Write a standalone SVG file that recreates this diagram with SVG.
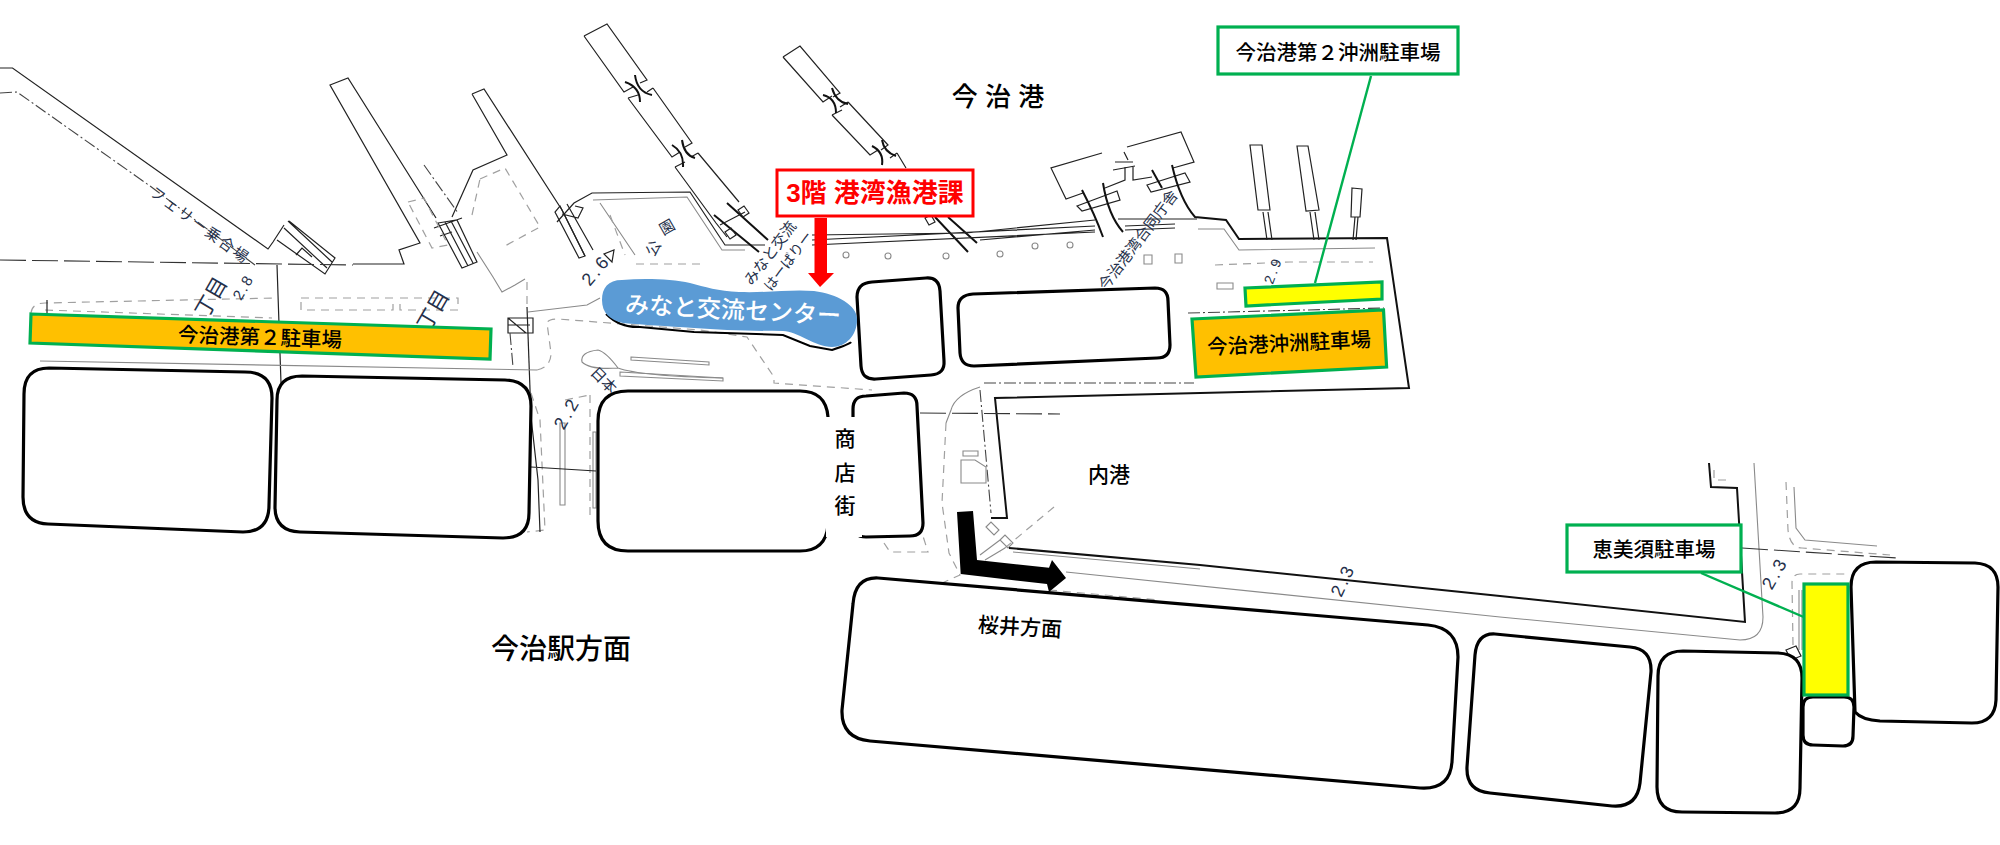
<svg xmlns="http://www.w3.org/2000/svg" width="2000" height="845" viewBox="0 0 2000 845">
<style>
text{font-family:"Liberation Sans","Noto Sans CJK JP",sans-serif;text-anchor:middle;dominant-baseline:central}
.m{fill:none;stroke:#222;stroke-width:1.2}
.k{fill:none;stroke:#111;stroke-width:2}
.g{fill:none;stroke:#8a8a8a;stroke-width:1.1}
.d{fill:none;stroke:#a0a0a0;stroke-width:1.2;stroke-dasharray:8 6}
.dd{fill:none;stroke:#444;stroke-width:1.1;stroke-dasharray:12 3 2 3}
.ld{fill:none;stroke:#333;stroke-width:1.1;stroke-dasharray:26 6}
.b{fill:#fff;stroke:#000;stroke-width:3.2}
.p{stroke:#00B050;stroke-width:3.2}
.lead{fill:none;stroke:#00B050;stroke-width:2.4}
.t{font-size:21px;fill:#000;font-weight:500}
.s{font-size:18px;fill:#25304a}
</style>
<g id="base-map">
<!-- ferry quay, west -->
<path class="m" d="M0,68H12.5L268,249L273,242L284,225M289,221L335,258L325,274L277,240M288,221L332,262M284,228L327,268"/>
<path class="dd" d="M0,93L17,92L150,186L255,265"/>
<path class="ld" d="M0,260L353,265"/>
<path class="m" d="M296,255L302,248L312,257M353,264H404L399,250L420,243L330,85L348,78L436,218"/>
<path class="m" d="M438,223L457,220L477,262L462,268ZM445,222L468,266M451,221L473,263M434,228L462,218M440,236L452,232"/>
<path class="d" d="M408,202L424,198L448,245L432,248Z"/>
<path class="m" d="M472,94L484,89L562,210L585,256M472,94L507,155L473,170L452,217"/>
<path class="dd" d="M424,165L458,213"/>
<path class="g" d="M477,252L493,277L502,292L515,285L525,279"/>
<path class="d" d="M480,179L505,168L540,227L503,247M527,282V306M472,215L480,179"/>
<path class="m" d="M527,307L531,417"/>
<path class="m" d="M557,222L574,203L592,193L690,192L725,245L765,245"/>
<path class="m" d="M560,206L585,256L579,258L555,212ZM567,204L593,250M575,206L583,208L578,218L562,214"/>
<path class="g" d="M593,200L687,197L722,250H745M600,203L635,255"/>
<path class="d" d="M636,264H700M610,215L625,255"/>
<path class="m" d="M612,262l-8,-8l10,-4z"/>
<!-- jetties -->
<path class="m" d="M584,36L607,24L647,80L640,83M653,88L647,92M653,88L692,143L685,147M698,153L691,157M698,153L739,202M584,36L624,92L633,87M628,98L638,95M628,98L672,157L680,152M675,167L685,162M675,167L716,223L727,237"/>
<path class="k" d="M625,82Q640,87 640,102M635,75Q637,92 652,95M672,145Q684,152 683,167M682,140Q684,155 695,158M714,215L759,252M727,203L768,240"/>
<path class="m" d="M738,210l6,-4l5,7l-6,4zM725,232l6,-4l5,7l-6,4zM720,225L745,212"/>
<path class="m" d="M783,57L800,46L840,93L833,97M848,102L840,107M848,102L888,145L881,150M897,153L890,158M897,153L906,168M783,57L823,102L832,96M832,115L842,110M832,115L870,155L878,150"/>
<path class="k" d="M823,95Q836,98 836,113M832,88Q836,102 848,104M872,146Q884,152 882,165M882,140Q884,152 896,156"/>
<path class="k" d="M935,217L968,252M948,217L977,243"/>
<path class="m" d="M925,218l6,-3l4,7l-6,3z"/>
<!-- east ferry terminal -->
<path class="m" d="M1102,153L1051,168L1066,199L1083,193M1127,147L1181,132L1194,162L1173,168"/>
<path class="m" d="M1077,206L1117,191L1120,200L1082,211ZM1147,185L1185,173L1190,182L1151,192Z"/>
<path class="m" d="M1105,188L1125,180V167M1133,167V180L1152,177M1115,162H1133M1113,170L1135,166M1124,152L1128,160"/>
<path class="k" d="M1082,190Q1095,215 1103,237M1103,183Q1108,215 1123,232M1152,170L1162,188M1172,165Q1180,200 1195,217L1226,220L1239,239L1387,238L1409,388L995,398L1007,518L991,518"/>
<path class="m" d="M966,233L1095,220M812,235L966,233M812,240L1095,226M980,240L1095,230M812,245L1095,232M1118,219H1197M1125,226L1175,224M1125,230L1175,228"/>
<path class="g" d="M1198,229H1224L1239,250L1375,248"/>
<path class="m" d="M1250,145H1262L1270,210H1258ZM1263,212L1267,240M1268,212L1272,240M1297,146H1308L1319,210L1306,211ZM1310,212L1314,240M1315,212L1319,240M1352,188L1362,189L1360,217H1351ZM1355,217L1353,240M1358,217L1356,240"/>
<path class="d" d="M1215,265L1290,262L1373,262"/>
<path class="g" d="M1217,283H1233V289H1217ZM1144,255h8v9h-8ZM1175,254h7v9h-7Z"/>
<g class="g"><circle cx="846" cy="255" r="3"/><circle cx="888" cy="256" r="3"/><circle cx="946" cy="256" r="3"/><circle cx="1000" cy="254" r="3"/><circle cx="1035" cy="246" r="3"/><circle cx="1070" cy="245" r="3"/></g>
<!-- roads west -->
<path class="d" d="M31,313Q32,303 45,303L275,298"/>
<path class="d" d="M45,310L272,318M301,298H393V310H301ZM400,298H458V310H400ZM295,330L395,335"/>
<path class="m" d="M277,265L281,383M47,300V320"/>
<path class="g" d="M40,361L537,370M528,312L587,305L600,298"/>
<path class="m" d="M508,318H533V333H508ZM508,318L526,333M508,325H530"/>
<path class="dd" d="M510,333L513,367"/>
<path class="d" d="M537,370Q551,367 551,353L547,323Q548,319 558,319L700,330L747,337L774,377V383L872,390"/>
<path class="g" d="M598,350Q580,352 582,362Q590,370 618,368Q640,376 723,378M598,350Q606,352 618,368"/>
<path class="g" d="M631,357L709,362V365L631,360ZM620,372L723,378V381L620,376Z"/>
<path class="d" d="M531,393L540,420L545,530L527,532M565,400L590,395M590,395L590,520"/>
<path class="g" d="M560,423H565L565,505H560ZM593,432H596V508H593Z"/>
<path class="m" d="M531,467L596,471M538,480L540,532M531,417L538,480"/>
<!-- inner harbour -->
<path class="ld" d="M920,413L1060,414"/>
<path class="g" d="M980,387Q955,395 951,410L946,423"/>
<path class="d" d="M946,423L942,503L949,553L960,575L942,583"/>
<path class="dd" d="M984,383H1194M980,390L991,513M1188,313L1384,308"/>
<path class="d" d="M884,543L890,552H928L922,533"/>
<path class="g" d="M963,451H978V456H963ZM961,460H975L986,467V483H961Z"/>
<path class="d" d="M1054,507L1000,552"/>
<path class="g" d="M986,527l5,-5l8,8l-5,5zM1000,540l5,-5l8,8l-5,5zM980,555L1000,540M985,560L1005,548"/>
<path class="k" d="M1009,548L1200,565L1500,596L1745,622L1737,488L1711,487L1709,463"/>
<path class="g" d="M1013,552L1200,569M1066,572L1500,617L1740,640Q1763,640 1763,617L1754,463"/>
<path class="d" d="M1049,590L1160,600"/>
<path class="d" d="M1714,470V480H1726"/>
<!-- south-east corner -->
<path class="d" d="M1786,482L1788,530Q1790,548 1802,548L1890,555"/>
<path class="g" d="M1794,487L1796,528L1805,540L1877,546"/>
<path class="ld" d="M1742,548L1897,558"/>
<path class="d" d="M1793,645L1792,583Q1792,574 1800,574H1850"/>
<path class="g" d="M1802,590V650M1799,590V650"/>
<path class="m" d="M1786,650l10,-4l5,10l-10,4z"/>
<!-- small map labels -->
<text class="s" transform="translate(243,287) rotate(-60)" style="letter-spacing:2px;font-size:15px">2.8</text>
<text class="s" transform="translate(596,270) rotate(-50)" style="letter-spacing:3px">2.6</text>
<text class="s" transform="translate(567,413) rotate(-60)" style="letter-spacing:3px">2.2</text>
<text class="s" transform="translate(1343,580) rotate(-65)" style="letter-spacing:3px">2.3</text>
<text class="s" transform="translate(1775,573) rotate(-60)" style="letter-spacing:3px">2.3</text>
<text class="s" transform="translate(1273,270) rotate(-70)" style="font-size:14px;letter-spacing:3px">2.9</text>
<text class="s" transform="translate(653,248) rotate(-60)" style="font-size:15px">公</text>
<text class="s" transform="translate(667,227) rotate(-30)" style="font-size:15px">園</text>
<text class="s" transform="translate(211,297) rotate(-60)" style="font-size:21px">丁目</text>
<text class="s" transform="translate(433,310) rotate(-60)" style="font-size:21px">丁目</text>
<text class="s" transform="translate(200,225) rotate(36)" style="font-size:15px;letter-spacing:2px">フェリー乗合場</text>
<text class="s" transform="translate(1138,240) rotate(-53)" style="font-size:15px">今治港湾合同庁舎</text>
<text class="s" transform="translate(770,253) rotate(-53)" style="font-size:15px">みなと交流</text>
<text class="s" transform="translate(788,261) rotate(-53)" style="font-size:14px">はーばりー</text>
<text class="s" transform="translate(604,380) rotate(45)" style="font-size:15px">日本</text>
</g>
<g id="connectors">
<line class="lead" x1="1371" y1="76" x2="1315" y2="283"/>
<line class="lead" x1="1701" y1="573" x2="1806" y2="618"/>
</g>
<g id="building-1"><path class="b" d="M49,368L245,372Q272,372 272,398L269,505Q269,532 243,532L48,524Q23,523 23,497L24,394Q24,368 49,368Z"/></g>
<g id="building-2"><path class="b" d="M302,376L505,380Q531,381 531,406L529,513Q529,538 503,538L300,532Q275,531 275,507L277,400Q277,376 302,376Z"/></g>
<g id="building-3"><path class="b" d="M628,391H800Q826,391 828,417L828,525Q826,551 800,551H628Q598,551 598,521V421Q598,391 628,391Z"/></g>
<g id="building-4"><path class="b" d="M866,396L904,393Q917,393 917,406L923,523Q923,536 910,536L866,537Q853,537 853,524V409Q853,396 866,396Z"/></g>
<g id="shopping-street"><rect x="826" y="417" width="36" height="120" fill="#fff"/>
<text class="t" x="845" y="438">商</text><text class="t" x="845" y="472">店</text><text class="t" x="845" y="505">街</text></g>
<g id="building-5"><path class="b" d="M872,282L926,278Q939,277 940,291L944,361Q945,374 931,375L876,379Q862,380 861,366L857,297Q857,283 872,282Z"/></g>
<g id="building-6"><path class="b" d="M973,294L1155,288Q1168,288 1168,301L1170,345Q1170,358 1157,358L974,366Q961,366 960,353L958,308Q958,295 973,294Z"/></g>
<g id="building-7"><path class="b" d="M878,578L1428,625Q1458,628 1458,657L1452,762Q1450,790 1420,788L870,741Q841,738 842,710L853,604Q855,577 878,578Z"/></g>
<g id="building-8"><path class="b" d="M1495,634L1630,647Q1652,649 1651,672L1640,783Q1637,808 1612,806L1490,793Q1466,791 1467,767L1475,655Q1477,633 1495,634Z"/></g>
<g id="building-9"><path class="b" d="M1683,651L1778,653Q1802,654 1802,678L1800,788Q1800,813 1775,813L1682,812Q1657,812 1657,787L1658,676Q1658,651 1683,651Z"/></g>
<g id="building-11"><path class="b" d="M1876,562L1975,563Q1998,564 1998,587L1996,700Q1995,723 1972,723L1880,721Q1862,720 1855,712L1851,587Q1851,562 1876,562Z"/></g>
<g id="building-10"><path class="b" d="M1813,697L1844,697Q1854,697 1854,707L1853,736Q1853,746 1843,746L1813,745Q1803,745 1803,735L1803,707Q1803,697 1813,697Z"/></g>
<g id="minato-center">
<path d="M606,314Q620,328 640,327L694,332L783,335L810,346L832,350Q850,344 851,342" fill="none" stroke="#000" stroke-width="2"/>
<path d="M602,300C602,288 608,280 622,280C645,278 672,279 690,283C705,287 718,291 739,292C770,293 790,289 814,291C838,294 858,306 857,320C857,335 846,347 832,347C815,347 797,331 783,331C750,331 720,330 694,328C665,326 645,325 623,323C610,320 602,313 602,300Z" fill="#5B9BD5"/>
<text transform="translate(733,310) rotate(3)" style="font-size:24px;fill:#fff;font-weight:500">みなと交流センター</text>
</g>
<g id="red-label">
<rect x="777" y="170" width="196" height="46" fill="#fff" stroke="#f00" stroke-width="3"/>
<text x="875" y="193" style="font-size:26px;fill:#f00;font-weight:700">3階 港湾漁港課</text>
<path d="M814.5,218H827V273H834L820,287L808,273H814.5Z" fill="#f00"/>
</g>
<g id="port-label"><text x="998" y="97" style="font-size:26px;font-weight:500">今 治 港</text></g>
<g id="parking-2"><path class="p" fill="#FFC000" d="M31,314L491,329L490,359L30,343Z"/>
<text class="t" transform="translate(260,337) rotate(1.9)" style="font-size:20.5px">今治港第２駐車場</text></g>
<g id="parking-oki-2-label"><rect class="p" x="1218" y="27" width="240" height="47" fill="#fff"/>
<text class="t" x="1338" y="52" style="font-size:20.5px">今治港第２沖洲駐車場</text></g>
<g id="parking-oki-2"><path class="p" fill="#FFFF00" d="M1245,288L1382,282L1382,299L1246,306Z"/></g>
<g id="parking-oki"><path class="p" fill="#FFC000" d="M1192,319L1383.5,310L1386.6,367L1196,377Z"/>
<text class="t" transform="translate(1289,343) rotate(-2.8)" style="font-size:20.5px">今治港沖洲駐車場</text></g>
<g id="parking-ebisu-label"><rect class="p" x="1567" y="525" width="174" height="47" fill="#fff"/>
<text class="t" x="1654" y="549" style="font-size:20.5px">恵美須駐車場</text></g>
<g id="parking-ebisu"><rect class="p" x="1804" y="584" width="44" height="111" fill="#FFFF00"/></g>
<g id="inner-port-label"><text class="t" x="1109" y="474">内港</text></g>
<g id="sakurai-arrow"><path d="M957,512L973,511L977,560L1049,567.7L1052,560L1066,578L1049,592L1047,584L960.7,574Z" fill="#000"/></g>
<g id="sakurai-label"><text class="t" transform="translate(1020,627) rotate(3.5)">桜井方面</text></g>
<g id="station-label"><text x="561" y="649" style="font-size:28px;font-weight:500">今治駅方面</text></g>
</svg>
